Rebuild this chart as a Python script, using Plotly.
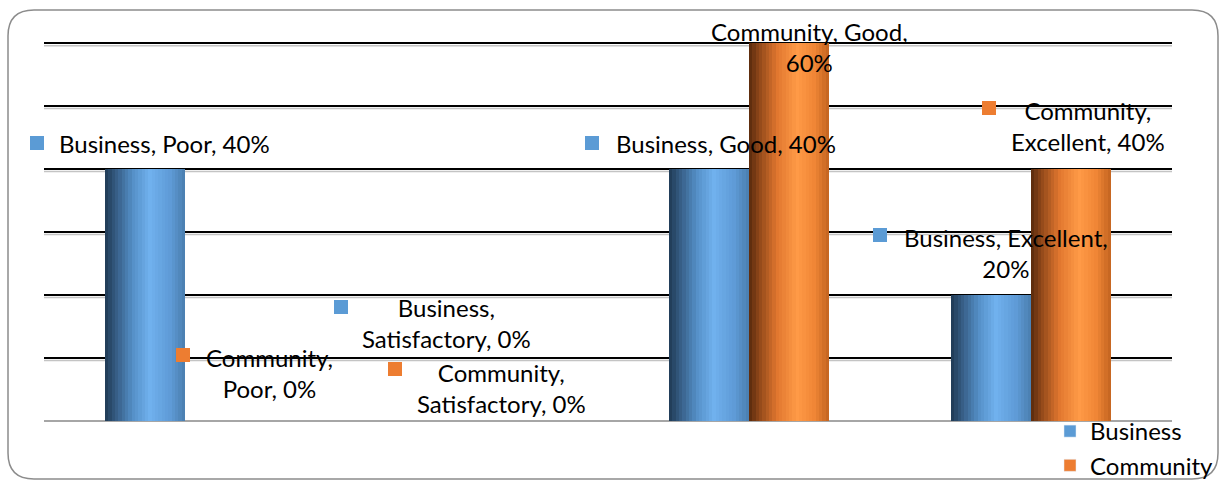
import plotly.graph_objects as go

# ---- data -------------------------------------------------------------
categories = ["Poor", "Satisfactory", "Good", "Excellent"]
business = [40, 0, 40, 20]
community = [0, 0, 60, 40]
y_ticks = [0, 10, 20, 30, 40, 50, 60]

# ---- styling ----------------------------------------------------------
FONT = "Lato"
FS = 24
BAR_W = 0.284          # width of one bar in category units
N_STRIPS = 24          # vertical strips used to shade each column
Y_MAX = 60.5

blue_stops = [(0.0, "#1f3852"), (0.12, "#33587e"), (0.35, "#5590c8"),
              (0.56, "#70b1ee"), (0.82, "#5e9ad6"), (1.0, "#4a7eae")]
orange_stops = [(0.0, "#57290c"), (0.12, "#8d4619"), (0.35, "#e0762f"),
                (0.6, "#ff9a47"), (0.82, "#ef8535"), (1.0, "#c2631f")]
BLUE_KEY = "#5B9BD5"
ORANGE_KEY = "#ED7D31"


def hex_rgb(h):
    h = h.lstrip("#")
    return tuple(int(h[i:i + 2], 16) for i in (0, 2, 4))


def shade(stops, t):
    for (t0, c0), (t1, c1) in zip(stops, stops[1:]):
        if t0 <= t <= t1:
            f = (t - t0) / (t1 - t0) if t1 > t0 else 0
            a, b = hex_rgb(c0), hex_rgb(c1)
            return "rgb(%d,%d,%d)" % tuple(round(a[i] + (b[i] - a[i]) * f) for i in range(3))
    return stops[-1][1]


x_idx = list(range(len(categories)))
fig = go.Figure()

# shaded columns: each series is built from thin strips sharing the same values
for values, stops, start in ((business, blue_stops, -BAR_W), (community, orange_stops, 0.0)):
    sw = BAR_W / N_STRIPS
    for k in range(N_STRIPS):
        fig.add_trace(go.Bar(
            x=x_idx, y=values, width=sw * 1.02, offset=start + k * sw,
            marker=dict(color=shade(stops, (k + 0.5) / N_STRIPS), line=dict(width=0)),
            showlegend=False, hoverinfo="skip",
        ))

# legend entries
fig.add_trace(go.Bar(x=[None], y=[None], name="Business", marker_color=BLUE_KEY))
fig.add_trace(go.Bar(x=[None], y=[None], name="Community", marker_color=ORANGE_KEY))

# ---- data labels ------------------------------------------------------
# (series, category index) -> text x, text y, key x, key y, key x-shift (px),
#                             anchor, line break after n-th comma
label_place = {
    ("Business", 0): (-0.454, 44.1, -0.454, 44.1, -20, "left", None),
    ("Business", 1): (0.929, 15.6, 0.553, 18.1, 0, "center", 1),
    ("Business", 2): (1.521, 44.1, 1.443, 44.1, 0, "left", None),
    ("Business", 3): (2.911, 26.7, 2.465, 29.5, 0, "center", 2),
    ("Community", 0): (0.301, 7.6, -0.007, 10.5, 0, "center", 1),
    ("Community", 1): (1.121, 5.2, 0.745, 8.25, 0, "center", 1),
    ("Community", 2): (2.213, 59.4, 1.766, 61.9, 0, "center", 2),
    ("Community", 3): (3.202, 46.8, 2.851, 49.7, 0, "center", 1),
}

for series, values, key_color in (("Business", business, BLUE_KEY),
                                  ("Community", community, ORANGE_KEY)):
    for i, cat in enumerate(categories):
        tx, ty, sx, sy, shift, anchor, brk = label_place[(series, i)]
        parts = [series, cat, f"{values[i]}%"]
        if brk is None:
            text = ", ".join(parts)
        else:
            text = ", ".join(parts[:brk]) + ",<br>" + ", ".join(parts[brk:])
        fig.add_annotation(x=tx, y=ty, xref="x", yref="y", text=text, showarrow=False,
                           xanchor=anchor, yanchor="middle", align="center",
                           font=dict(family=FONT, size=FS, color="#000000"))
        # coloured key square next to the label
        fig.add_annotation(x=sx, y=sy, xref="x", yref="y", text="", showarrow=False,
                           width=14, height=14, bgcolor=key_color, borderpad=0,
                           borderwidth=0, xanchor="center", yanchor="middle",
                           xshift=shift)

# soft grey shadow just under each gridline
for t in y_ticks[1:]:
    fig.add_shape(type="line", xref="paper", x0=0, x1=1, yref="y",
                  ysizemode="pixel", yanchor=t, y0=-2.5, y1=-2.5,
                  line=dict(color="#c4c4c4", width=1.5), layer="below")

# ---- frame with rounded corners (plot-area paper coordinates) ---------
L, T, PW, PH = 44, 40, 1128, 381


def px(xp):
    return (xp - L) / PW


def py(yp):
    return (T + PH - yp) / PH


x0, x1, y0, y1, r = 8, 1218, 10, 479, 26
path = (f"M {px(x0 + r)},{py(y0)} L {px(x1 - r)},{py(y0)} "
        f"Q {px(x1)},{py(y0)} {px(x1)},{py(y0 + r)} "
        f"L {px(x1)},{py(y1 - r)} Q {px(x1)},{py(y1)} {px(x1 - r)},{py(y1)} "
        f"L {px(x0 + r)},{py(y1)} Q {px(x0)},{py(y1)} {px(x0)},{py(y1 - r)} "
        f"L {px(x0)},{py(y0 + r)} Q {px(x0)},{py(y0)} {px(x0 + r)},{py(y0)} Z")
fig.add_shape(type="path", path=path, xref="paper", yref="paper",
              line=dict(color="#8c8c8c", width=1.5), layer="below")

fig.update_layout(
    width=1220, height=480,
    margin=dict(l=L, r=1220 - L - PW, t=T, b=480 - T - PH, autoexpand=False),
    barmode="overlay", bargap=0,
    paper_bgcolor="white", plot_bgcolor="white",
    font=dict(family=FONT, size=FS, color="#000000"),
    showlegend=True,
    legend=dict(x=px(1050), y=py(409), xanchor="left", yanchor="top",
                bgcolor="rgba(0,0,0,0)", font=dict(family=FONT, size=FS),
                tracegroupgap=0, itemwidth=30),
    xaxis=dict(range=[-0.5, 3.5], showgrid=False, showticklabels=False,
               ticks="", zeroline=False, showline=False,
               tickvals=x_idx, ticktext=categories),
    yaxis=dict(range=[0, Y_MAX], tickvals=y_ticks, showticklabels=False, ticks="",
               showgrid=True, gridcolor="#000000", gridwidth=2,
               zeroline=True, zerolinecolor="#a6a6a6", zerolinewidth=2,
               showline=False),
)

fig.write_html("out.html")
